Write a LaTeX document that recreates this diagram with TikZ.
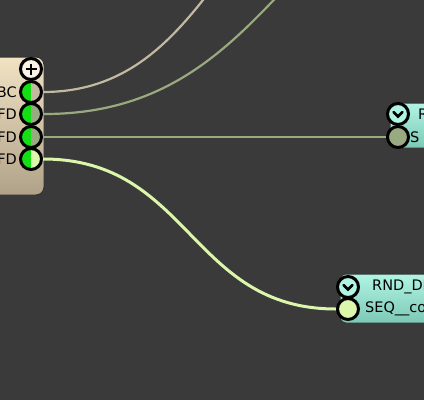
\documentclass[tikz,border=0pt]{standalone}
\usepackage{fontspec}
\setmainfont{DejaVu Sans}
\definecolor{canvas}{HTML}{3A3A3A}
\definecolor{boxtop}{HTML}{F2E2C4}
\definecolor{boxbot}{HTML}{B0A288}
\definecolor{minttop}{HTML}{B0F4E4}
\definecolor{mintbot}{HTML}{7CC8B6}
\definecolor{portgreen}{HTML}{14DE14}
\definecolor{wireBC}{HTML}{C2B9A0}
\definecolor{wireFD}{HTML}{9AAA80}
\definecolor{wireHot}{HTML}{DCF6AC}
\definecolor{plusfill}{HTML}{FAF2E2}
\begin{document}
\begin{tikzpicture}[x=1pt,y=-1pt]

\tikzset{port/.style={circle, draw=black, line width=3, minimum size=21pt, inner sep=0pt},
halfport/.style={port, path picture={\fill[portgreen] (path picture bounding box.north west) rectangle (path picture bounding box.south);}},
label/.style={font=\fontsize{14.5}{14.5}\selectfont, inner sep=0pt},
wire/.style={line width=2.2}}

\fill [canvas] (0,0) rectangle (424,400);
\useasboundingbox (0,0) rectangle (424,400);

\begin{scope}

\clip (0,0) rectangle (424,400);

% left node
\draw [black!80,line width=1,top color=boxtop,bottom color=boxbot,rounded corners=8] (-20,57) rectangle (44,195);

\node [port,fill=plusfill] (plus) at (31,69) {};
\draw [line width=2.6] ([xshift=-5.5]plus.center) -- ([xshift=5.5]plus.center);
\draw [line width=2.6] ([yshift=-5.5]plus.center) -- ([yshift=5.5]plus.center);

\node [halfport,fill=wireBC] (oBC) at (31,92) {};
\node [halfport,fill=wireFD] (oFDa) at (31,114) {};
\node [halfport,fill=wireFD] (oFDb) at (31,137) {};
\node [halfport,fill=wireHot] (oFDc) at (31,159) {};

\node [label,anchor=east] (lBC) at (17,92) {BC};
\node [label,anchor=east] (lFDa) at (17,114) {FD};
\node [label,anchor=east] (lFDb) at (17,137) {FD};
\node [label,anchor=east] (lFDc) at (17,159) {FD};

% right nodes
\draw [black!80,line width=1,top color=minttop,bottom color=mintbot,rounded corners=6] (390,103) rectangle (450,148);
\node [port,fill=minttop] (vTop) at (398,114) {};
\draw [line width=2.6,line cap=round] ([shift={(-4.5,-2)}]vTop.center) -- ([shift={(0,2.5)}]vTop.center) -- ([shift={(4.5,-2)}]vTop.center);
\node [port,fill=wireFD] (iTop) at (398,137) {};
\node [label,anchor=west] (nTop) at (418,114) {R};
\node [label,anchor=west] (sTop) at (410,137) {S};

\draw [black!80,line width=1,top color=minttop,bottom color=mintbot,rounded corners=6] (340,274) rectangle (450,323);
\node [port,fill=minttop] (vBot) at (348,287) {};
\draw [line width=2.6,line cap=round] ([shift={(-4.5,-2)}]vBot.center) -- ([shift={(0,2.5)}]vBot.center) -- ([shift={(4.5,-2)}]vBot.center);
\node [port,fill=wireHot] (iBot) at (348,309) {};
\node [label,anchor=west] (nBot) at (372,287) {RND\_DI};
\node [label,anchor=west] (sBot) at (365,309) {SEQ\_\_co};

% wires
\coordinate (farA) at (410,-150);
\coordinate (farB) at (540,-150);

\draw [wireBC,wire] (oBC.east) .. controls (225,92) and (225,-150) .. (farA);
\draw [wireFD,wire] (oFDa.east) .. controls (290,115) and (290,-150) .. (farB);
\draw [wireFD,wire] (oFDb.east) -- (iTop.west);
\draw [wireHot,line width=3] (oFDc.east) .. controls (190,159) and (190,309) .. (iBot.west);

\end{scope}

\end{tikzpicture}
\end{document}
